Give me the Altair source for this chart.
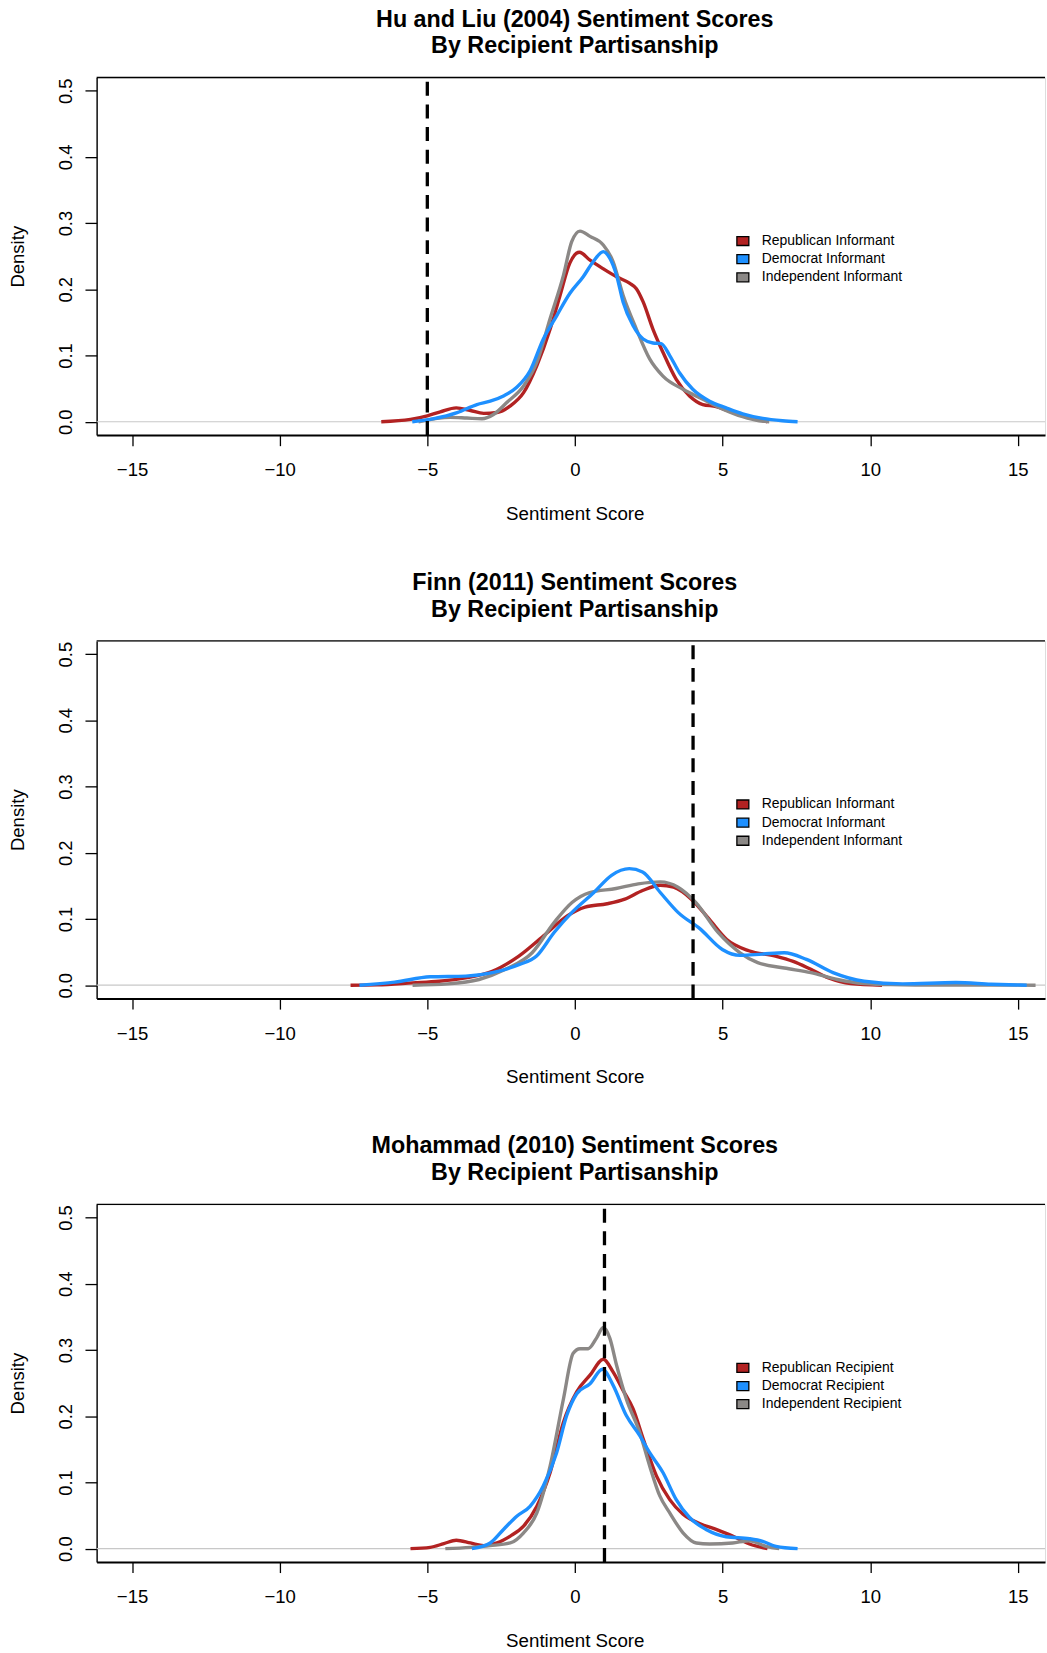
import altair as alt
import pandas as pd

# ---------------- data ----------------
X_TICKS = [-15, -10, -5, 0, 5, 10, 15]
Y_TICKS = [0.0, 0.1, 0.2, 0.3, 0.4, 0.5]

TITLES = [
    ["Hu and Liu (2004) Sentiment Scores", "By Recipient Partisanship"],
    ["Finn (2011) Sentiment Scores", "By Recipient Partisanship"],
    ["Mohammad (2010) Sentiment Scores", "By Recipient Partisanship"],
]
NAMES_INFORMANT = ["Republican Informant", "Democrat Informant", "Independent Informant"]
NAMES_RECIPIENT = ["Republican Recipient", "Democrat Recipient", "Independent Recipient"]
VLINES = [-5.0, 4.0, 1.0]

# Panel 1: Hu and Liu (2004)
hl_rep_x = [-6.56, -5.57, -5.0, -4.56, -4.02, -3.54, -3.09, -2.64, -2.19, -1.74, -1.29, -0.84, -0.51, -0.17, 0.15,
            0.51, 0.96, 1.41, 1.86, 2.08, 2.31, 2.64, 2.98, 3.43, 3.88, 4.33, 4.78, 5.23, 5.91, 6.52]
hl_rep_d = [0.0, 0.0035, 0.009, 0.015, 0.021, 0.017, 0.0127, 0.014, 0.024, 0.044, 0.085, 0.14, 0.19, 0.24, 0.256,
            0.244, 0.231, 0.219, 0.209, 0.201, 0.181, 0.14, 0.105, 0.064, 0.039, 0.026, 0.023, 0.016, 0.0066, 0.0]
hl_dem_x = [-5.51, -4.78, -3.99, -3.32, -2.87, -2.42, -1.97, -1.52, -1.07, -0.62, -0.17, 0.28, 0.62, 0.96, 1.18,
            1.41, 1.63, 1.97, 2.31, 2.64, 2.92, 3.21, 3.54, 3.99, 4.56, 5.12, 5.68, 6.36, 7.03, 7.54]
hl_dem_d = [0.0, 0.0046, 0.0137, 0.026, 0.031, 0.039, 0.052, 0.077, 0.125, 0.16, 0.194, 0.219, 0.242, 0.257, 0.247,
            0.221, 0.181, 0.145, 0.125, 0.119, 0.118, 0.1, 0.074, 0.049, 0.031, 0.021, 0.012, 0.005, 0.0015, 0.0]
hl_ind_x = [-5.3, -4.22, -3.66, -3.15, -2.76, -2.31, -1.74, -1.29, -0.84, -0.39, -0.11, 0.17, 0.51, 0.96, 1.29,
            1.63, 2.08, 2.53, 2.98, 3.66, 4.33, 5.01, 5.68, 6.24, 6.58]
hl_ind_d = [0.0, 0.0066, 0.0056, 0.0046, 0.011, 0.029, 0.054, 0.09, 0.156, 0.221, 0.272, 0.288, 0.28, 0.267, 0.242,
            0.191, 0.14, 0.095, 0.069, 0.049, 0.034, 0.019, 0.0076, 0.0015, 0.0]

# Panel 2: Finn (2011)
fn_rep_x = [-7.6, -6.7, -5.5, -4.6, -3.7, -2.8, -1.9, -1.0, -0.25, 0.34, 1.09, 1.69, 2.29, 2.89, 3.34, 3.94,
            4.54, 5.14, 5.89, 6.79, 7.39, 7.99, 8.59, 9.34, 10.4]
fn_rep_d = [0.0, 0.0005, 0.0035, 0.006, 0.011, 0.021, 0.044, 0.077, 0.105, 0.118, 0.123, 0.13, 0.143, 0.151, 0.148,
            0.13, 0.1, 0.069, 0.052, 0.044, 0.036, 0.024, 0.011, 0.0025, 0.0]
fn_dem_x = [-7.3, -6.1, -4.9, -3.7, -2.8, -1.9, -1.3, -0.7, -0.1, 0.64, 1.24, 1.84, 2.29, 2.89, 3.49, 4.24, 4.99,
            5.59, 6.34, 7.09, 7.84, 8.74, 9.79, 11.1, 12.9, 14.1, 15.3]
fn_dem_d = [0.0, 0.0046, 0.0127, 0.0137, 0.019, 0.031, 0.044, 0.08, 0.11, 0.14, 0.166, 0.176, 0.171, 0.14, 0.11,
            0.085, 0.054, 0.045, 0.047, 0.049, 0.039, 0.019, 0.006, 0.002, 0.004, 0.0015, 0.0]
fn_ind_x = [-5.5, -4.3, -3.25, -2.35, -1.45, -0.7, -0.1, 0.5, 1.39, 2.14, 2.89, 3.49, 4.09, 4.84, 5.59, 6.19,
            7.09, 7.99, 8.89, 9.79, 10.7, 11.9, 15.6]
fn_ind_d = [0.0, 0.002, 0.0086, 0.024, 0.049, 0.095, 0.125, 0.14, 0.146, 0.153, 0.156, 0.148, 0.125, 0.08, 0.049,
            0.034, 0.026, 0.019, 0.0086, 0.0025, 0.0008, 0.0003, 0.0]

# Panel 3: Mohammad (2010)
mo_rep_x = [-5.57, -4.9, -4.44, -4.02, -3.54, -3.09, -2.64, -2.19, -1.74, -1.29, -0.84, -0.39, 0.06, 0.51, 0.96,
            1.29, 1.63, 1.97, 2.31, 2.76, 3.21, 3.66, 4.22, 4.78, 5.34, 5.91, 6.52]
mo_rep_d = [0.0, 0.002, 0.0076, 0.0127, 0.0086, 0.0046, 0.0086, 0.019, 0.034, 0.064, 0.115, 0.191, 0.237, 0.262,
            0.286, 0.267, 0.239, 0.211, 0.166, 0.11, 0.074, 0.052, 0.038, 0.029, 0.019, 0.007, 0.0]
mo_dem_x = [-3.49, -2.87, -2.42, -1.97, -1.52, -1.07, -0.62, -0.28, 0.06, 0.51, 0.93, 1.29, 1.74, 2.19, 2.53, 2.98,
            3.43, 3.88, 4.44, 5.12, 5.91, 6.36, 6.81, 7.54]
mo_dem_d = [0.0, 0.0086, 0.029, 0.049, 0.064, 0.095, 0.145, 0.201, 0.234, 0.249, 0.271, 0.247, 0.201, 0.171, 0.145,
            0.115, 0.074, 0.047, 0.029, 0.018, 0.015, 0.011, 0.0035, 0.0]
mo_ind_x = [-4.39, -3.54, -2.87, -2.19, -1.74, -1.29, -0.84, -0.39, -0.06, 0.17, 0.45, 0.73, 0.96, 1.18, 1.41,
            1.74, 2.19, 2.53, 2.87, 3.21, 3.66, 4.11, 4.56, 5.34, 5.91, 6.47, 6.92]
mo_ind_d = [0.0, 0.002, 0.0046, 0.0086, 0.024, 0.054, 0.125, 0.226, 0.295, 0.302, 0.302, 0.318, 0.334, 0.318, 0.277,
            0.226, 0.176, 0.125, 0.08, 0.054, 0.024, 0.0086, 0.007, 0.0086, 0.012, 0.0035, 0.0]

# ---------------- styling ----------------
COLORS = ["#B22222", "#1E90FF", "#8B8886"]
W = 952
H = 358.9
XDOM = [-16.2, 15.92]
YDOM = [-0.02, 0.52]
FONT = "Liberation Sans"


def series_df(xs, ds, name):
    return pd.DataFrame({"x": xs, "d": ds, "g": name})


def make_panel(title_lines, names, series, vline):
    xs = alt.Scale(domain=XDOM, nice=False, zero=False)
    ys = alt.Scale(domain=YDOM, nice=False, zero=False)
    # drawing order for the lines: Republican, Independent, Democrat (blue on top)
    order = [0, 2, 1]
    stroke_scale = alt.Scale(domain=[names[i] for i in order], range=[COLORS[i] for i in order])

    xaxis = alt.Axis(values=X_TICKS, title="Sentiment Score", grid=False,
                     domain=True, domainColor="black", domainWidth=2,
                     tickSize=10.7, tickWidth=1.3, tickColor="black",
                     labelFont=FONT, labelFontSize=18.6, labelColor="black",
                     labelPadding=15.3, labelFlush=False, labelOverlap=False,
                     titleFont=FONT, titleFontSize=18.8, titleFontWeight="normal",
                     titleColor="black", titleX=480, titleY=69.8,
                     titleBaseline="top", titleAlign="center")
    yaxis = alt.Axis(values=Y_TICKS, format=".1f", title="Density", grid=False,
                     domain=True, domainColor="black", domainWidth=1.4,
                     tickSize=11.7, tickWidth=1.3, tickColor="black",
                     labelAngle=270, labelAlign="center", labelBaseline="bottom",
                     labelFont=FONT, labelFontSize=18.4, labelColor="black",
                     labelPadding=9.3, labelFlush=False, labelOverlap=False,
                     titleFont=FONT, titleFontSize=18.6, titleFontWeight="normal",
                     titleColor="black", titleAngle=270, titleX=-69.5, titleY=H / 2,
                     titleBaseline="bottom", titleAlign="center")

    zero = alt.Chart(pd.DataFrame({"z": [0.0]})).mark_rule(
        color="#C8C8C8", strokeWidth=1.2
    ).encode(
        x=alt.value(0), x2=alt.value(W),
        y=alt.Y("z:Q", scale=ys, axis=yaxis),
    )
    top_border = alt.Chart(pd.DataFrame({"z": [0.0]})).mark_rule(
        color="black", strokeWidth=1.4
    ).encode(x=alt.value(0), x2=alt.value(W), y=alt.value(0))

    layers = [zero, top_border]
    for idx in order:
        xs_, ds_ = series[idx]
        df = series_df(xs_, ds_, names[idx])
        layers.append(
            alt.Chart(df).mark_line(strokeWidth=3.4, clip=True, interpolate="monotone",
                                    strokeCap="butt", strokeJoin="round").encode(
                x=alt.X("x:Q", scale=xs, axis=xaxis),
                y=alt.Y("d:Q", scale=ys, axis=yaxis),
                stroke=alt.Stroke("g:N", scale=stroke_scale, legend=None),
            )
        )

    vdf = pd.DataFrame({"v": [vline], "y0": [YDOM[0]], "y1": [YDOM[1]]})
    layers.append(
        alt.Chart(vdf).mark_rule(color="black", strokeWidth=3.3, strokeDash=[14, 8.7]).encode(
            x=alt.X("v:Q", scale=xs, axis=xaxis),
            y=alt.Y("y0:Q", scale=ys, axis=yaxis),
            y2="y1:Q",
        )
    )

    legend = alt.Legend(orient="none", legendX=641.7, legendY=157.2, title=None,
                        symbolType="M-1,-0.75H1V0.75H-1Z", symbolSize=144,
                        symbolStrokeColor="black", symbolStrokeWidth=1.3, symbolOpacity=1,
                        labelFont=FONT, labelFontSize=14, labelColor="black",
                        labelOffset=12, rowPadding=2.2, padding=0, offset=0)
    ldf = pd.DataFrame({"lg": names})
    layers.append(
        alt.Chart(ldf).mark_square(opacity=0, stroke="black", strokeWidth=1.3).encode(
            fill=alt.Fill("lg:N", scale=alt.Scale(domain=names, range=COLORS), sort=names, legend=legend)
        )
    )

    return alt.layer(*layers).properties(
        width=W, height=H,
        title=alt.TitleParams(text=title_lines, font=FONT, fontSize=23.4, fontWeight="bold",
                              color="black", anchor="middle", frame="group", offset=17.3,
                              lineHeight=26.8, dx=4),
    )


p1 = make_panel(TITLES[0], NAMES_INFORMANT,
                [(hl_rep_x, hl_rep_d), (hl_dem_x, hl_dem_d), (hl_ind_x, hl_ind_d)], VLINES[0])
p2 = make_panel(TITLES[1], NAMES_INFORMANT,
                [(fn_rep_x, fn_rep_d), (fn_dem_x, fn_dem_d), (fn_ind_x, fn_ind_d)], VLINES[1])
p3 = make_panel(TITLES[2], NAMES_RECIPIENT,
                [(mo_rep_x, mo_rep_d), (mo_dem_x, mo_dem_d), (mo_ind_x, mo_ind_d)], VLINES[2])

chart = alt.vconcat(p1, p2, p3, spacing=565.5 - H, bounds="flush").resolve_scale(
    x="independent", y="independent", fill="independent", stroke="independent"
).resolve_legend(fill="independent", stroke="independent").properties(
    padding={"left": 8, "top": 3.6, "right": 0, "bottom": 0},
    background="white",
).configure_view(stroke="transparent").configure(font=FONT)

chart.save("out.html", embed_options={"renderer": "svg", "actions": False})
